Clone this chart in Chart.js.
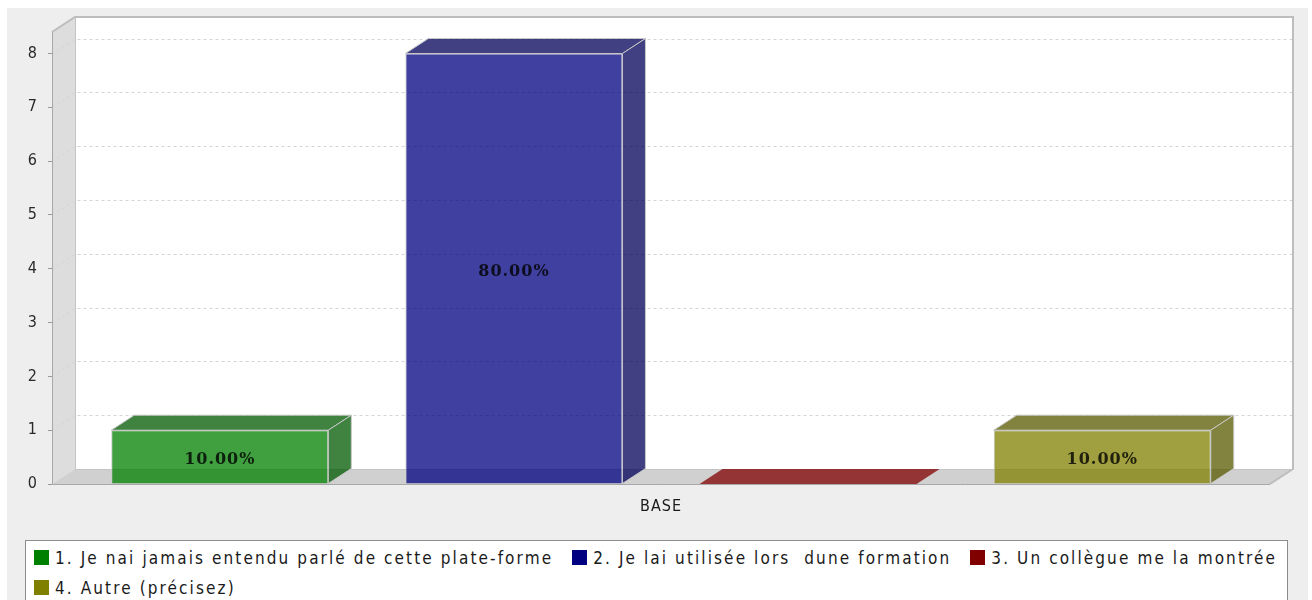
<!DOCTYPE html>
<html>
<head>
<meta charset="utf-8">
<script src="https://cdn.jsdelivr.net/npm/chart.js@4.4.0/dist/chart.umd.min.js"></script>
<style>
  html,body{margin:0;padding:0;background:#fff;width:1312px;height:600px;overflow:hidden}
  #bg{position:absolute;left:7px;top:8px;right:4px;bottom:0;background:#eeeeee}
  #c{position:absolute;left:0;top:0}
  #legend{position:absolute;left:25px;top:540px;width:1263px;height:80px;box-sizing:border-box;border:1px solid #8c8c8c;background:#fff;
    padding:7px 0 0 8px;display:flex;flex-wrap:wrap;row-gap:11px;column-gap:19px;align-content:flex-start;
    font:17px "DejaVu Sans Condensed","DejaVu Sans",sans-serif;color:#1a1a1a;letter-spacing:2.1px}
  .it{display:flex;align-items:center;white-space:pre;height:19px}
  .sw{width:15px;height:15px;margin-right:6px;flex-shrink:0}
</style>
</head>
<body>
<div id="bg"></div>
<canvas id="c" width="1312" height="530"></canvas>
<div id="legend"></div>
<script>
const categories=['BASE'];
const seriesNames=['1. Je nai jamais entendu parlé de cette plate-forme','2. Je lai utilisée lors  dune formation','3. Un collègue me la montrée','4. Autre (précisez)'];
const seriesValues=[1,8,0,1];
const seriesColors=['#008000','#000080','#800000','#808000'];
const yTicks=[0,1,2,3,4,5,6,7,8];

const DX=23,DY=15;
function rgba(hex,a,f){f=f||1;const n=parseInt(hex.slice(1),16);
  return `rgba(${Math.round((n>>16&255)*f)},${Math.round((n>>8&255)*f)},${Math.round((n&255)*f)},${a})`;}
const total=seriesValues.reduce((a,b)=>a+b,0);

const lg=document.getElementById('legend');
seriesNames.forEach((n,i)=>{
  lg.innerHTML+=`<div class="it"><div class="sw" style="background:${seriesColors[i]}"></div><span>${n}</span></div>`;
});

const box3d={
  id:'box3d',
  beforeDraw(chart){chart.ctx.letterSpacing='1px';},
  beforeDatasetsDraw(chart){
    const {ctx,chartArea:{left,right,top,bottom},scales:{y}}=chart;
    ctx.save();
    // back wall
    ctx.fillStyle='#fff';
    ctx.fillRect(left+DX,top-DY,right-left,bottom-top);
    // left wall
    ctx.fillStyle='#dddddd';
    ctx.beginPath();ctx.moveTo(left,top);ctx.lineTo(left+DX,top-DY);ctx.lineTo(left+DX,bottom-DY);ctx.lineTo(left,bottom);ctx.closePath();ctx.fill();
    // floor
    ctx.fillStyle='#d0d0d0';
    ctx.beginPath();ctx.moveTo(left,bottom);ctx.lineTo(left+DX,bottom-DY);ctx.lineTo(right+DX,bottom-DY);ctx.lineTo(right,bottom);ctx.closePath();ctx.fill();
    // gridlines on walls
    ctx.strokeStyle='#d4d4d4';ctx.lineWidth=1;ctx.setLineDash([3,3]);
    yTicks.slice(1).forEach(v=>{
      const py=Math.round(y.getPixelForValue(v))+0.5;
      ctx.beginPath();ctx.moveTo(left,py);ctx.lineTo(left+DX,py-DY);ctx.lineTo(right+DX,py-DY);ctx.stroke();
    });
    ctx.setLineDash([]);
    // outlines
    ctx.strokeStyle='#bdbdbd';ctx.lineWidth=2;
    ctx.beginPath();ctx.moveTo(left,top);ctx.lineTo(left+DX,top-DY);ctx.lineTo(right+DX,top-DY);ctx.lineTo(right+DX,bottom-DY);ctx.lineTo(right,bottom);ctx.stroke();
    ctx.strokeStyle='#c4c4c4';ctx.lineWidth=1;
    ctx.beginPath();ctx.moveTo(left+DX+0.5,top-DY);ctx.lineTo(left+DX+0.5,bottom-DY+0.5);ctx.lineTo(right+DX,bottom-DY+0.5);ctx.stroke();
    ctx.strokeStyle='#a8a8a8';
    ctx.beginPath();ctx.moveTo(left+0.5,top);ctx.lineTo(left+0.5,bottom+0.5);ctx.lineTo(right,bottom+0.5);ctx.stroke();
    ctx.restore();
  },
  afterDatasetsDraw(chart){
    const ctx=chart.ctx;
    ctx.save();
    chart.data.datasets.forEach((ds,i)=>{
      chart.getDatasetMeta(i).data.forEach((bar,j)=>{
        const {x,y,base,width}=bar.getProps(['x','y','base','width'],true);
        const l=x-width/2,r=x+width/2,v=ds.data[j];
        ctx.strokeStyle='#c8c8c8';ctx.lineWidth=1;
        ctx.fillStyle=v>0?rgba(seriesColors[i],0.75,0.7):rgba(seriesColors[i],0.75);
        ctx.beginPath();ctx.moveTo(l,y);ctx.lineTo(l+DX,y-DY);ctx.lineTo(r+DX,y-DY);ctx.lineTo(r,y);ctx.closePath();ctx.fill();
        if(v>0){
          ctx.stroke();
          ctx.beginPath();ctx.moveTo(r,y);ctx.lineTo(r+DX,y-DY);ctx.lineTo(r+DX,base-DY);ctx.lineTo(r,base);ctx.closePath();ctx.fill();ctx.stroke();
          ctx.font='bold 16px "DejaVu Serif",serif';ctx.letterSpacing='1px';
          ctx.fillStyle='rgba(0,0,0,0.8)';ctx.textAlign='center';ctx.textBaseline='middle';
          ctx.fillText((v/total*100).toFixed(2)+'%',x,(y+base)/2+3);
        }
      });
    });
    ctx.restore();
  }
};

new Chart(document.getElementById('c'),{
  type:'bar',
  data:{labels:categories,datasets:seriesNames.map((n,i)=>({label:n,data:[seriesValues[i]],
    backgroundColor:rgba(seriesColors[i],0.75),borderColor:'#c8c8c8',borderWidth:1,
    categoryPercentage:0.966,barPercentage:0.738}))},
  options:{responsive:false,animation:false,devicePixelRatio:1,
    layout:{padding:{left:0,right:42,top:32,bottom:0}},
    plugins:{legend:{display:false},tooltip:{enabled:false}},
    scales:{
      y:{min:0,max:8.4,afterFit(s){s.width=52;},
        afterBuildTicks(s){s.ticks=yTicks.map(v=>({value:v}));},
        grid:{drawOnChartArea:false,drawTicks:true,tickLength:4,color:'#999'},
        border:{display:false},
        ticks:{padding:10,color:'#2a2a2a',font:{family:'"DejaVu Sans Condensed","DejaVu Sans",sans-serif',size:16}}},
      x:{afterFit(s){s.height=46;},grid:{display:false,drawTicks:false},border:{display:false},
        ticks:{padding:13,color:'#1a1a1a',font:{family:'"DejaVu Sans Condensed","DejaVu Sans",sans-serif',size:16}}}
    }},
  plugins:[box3d]
});
</script>
</body>
</html>
